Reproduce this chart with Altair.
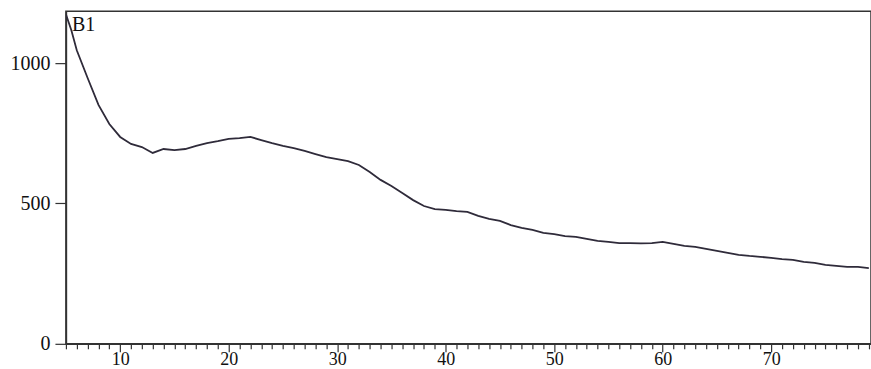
import altair as alt
import pandas as pd

x_vals = [5, 5.5] + list(range(6, 80))
y_vals = [
    1174, 1117, 1046, 947, 851, 783, 737, 712, 701, 680, 694,
    690, 694, 705, 715, 722, 730, 733, 737, 726, 715,
    705, 697, 687, 676, 665, 658, 651, 637, 612, 584,
    562, 537, 512, 491, 480, 477, 473, 470, 456, 445,
    438, 423, 413, 406, 395, 391, 384, 381, 374, 367,
    363, 359, 359, 358, 359, 363, 356, 349, 345, 338,
    331, 324, 317, 313, 310, 306, 302, 299, 292, 288,
    281, 278, 274, 274, 270,
]

x_ticks = list(range(5, 80))
y_ticks = [0, 500, 1000]
label_text = "B1"

df = pd.DataFrame({"x": x_vals, "y": y_vals})

FONT = "Liberation Serif"

line = alt.Chart(df).mark_line(color="#2f2b3a", strokeWidth=1.8, clip=True).encode(
    x=alt.X(
        "x:Q",
        scale=alt.Scale(domain=[5, 79.2], nice=False, zero=False),
        axis=alt.Axis(
            title=None,
            values=x_ticks,
            format="d",
            labelExpr="datum.value % 10 === 0 ? datum.label : ''",
            labelOverlap=False,
            labelFlush=False,
            grid=False,
            tickSize={"condition": {"test": "datum.value % 10 === 0", "value": 8}, "value": 5},
            tickColor="#333",
            tickWidth=1.2,
            domainColor="#333",
            domainWidth=1.5,
            labelFont=FONT,
            labelFontSize=18,
            labelColor="#111",
            labelPadding=-1,
        ),
    ),
    y=alt.Y(
        "y:Q",
        scale=alt.Scale(domain=[0, 1185], nice=False),
        axis=alt.Axis(
            title=None,
            values=y_ticks,
            format="d",
            grid=False,
            tickSize=11,
            tickColor="#333",
            tickWidth=1.2,
            domainColor="#333",
            domainWidth=1.5,
            labelFont=FONT,
            labelFontSize=20,
            labelColor="#111",
            labelPadding=5,
        ),
    ),
)

txt = alt.Chart(pd.DataFrame({"t": [label_text]})).mark_text(
    font=FONT, fontSize=20, color="#111", align="left", baseline="top"
).encode(text="t:N", x=alt.value(6), y=alt.value(4))

chart = (
    alt.layer(line, txt)
    .properties(
        width=806,
        height=333,
        autosize=alt.AutoSizeParams(type="none"),
        padding={"left": 66, "top": 11, "right": 0, "bottom": 25},
        background="white",
    )
    .configure(font=FONT)
    .configure_view(stroke="#333", strokeWidth=1.5)
)

chart.save("out.html", embed_options={"renderer": "svg", "actions": False})
